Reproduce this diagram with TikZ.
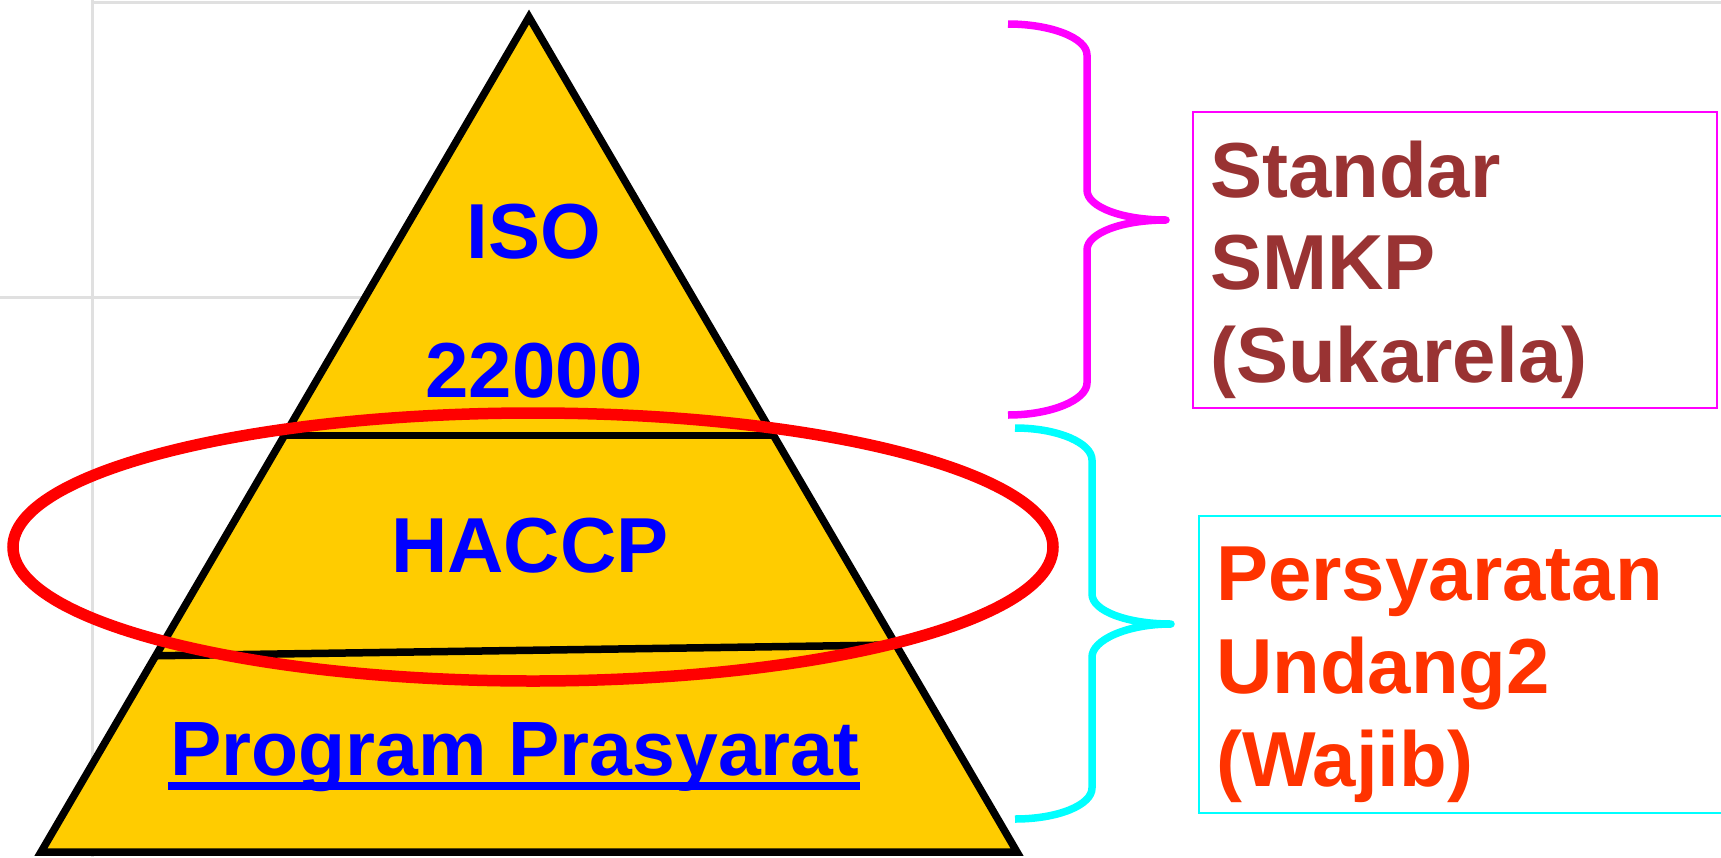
\documentclass[tikz,border=0pt]{standalone}
\usepackage{fontspec}
\setmainfont{Liberation Sans}
\usetikzlibrary{calc}
\definecolor{pyramidgold}{HTML}{FFCC00}
\definecolor{labelblue}{HTML}{0000FF}
\definecolor{smkpbrown}{HTML}{993333}
\definecolor{lawred}{HTML}{FF3300}
\definecolor{guidegray}{HTML}{E0E0E0}
\definecolor{bracemagenta}{HTML}{FF00FF}
\definecolor{bracecyan}{HTML}{00FFFF}
\definecolor{ringred}{HTML}{FF0000}

\begin{document}
\begin{tikzpicture}[x=1pt,y=-1pt,
  bigtext/.style={font=\bfseries\fontsize{78}{92.5}\selectfont, inner sep=0pt},
  tierlabel/.style={bigtext, text=labelblue, anchor=base},
  sidelabel/.style={bigtext, anchor=base west},
  edgeline/.style={line width=7.5pt},
  bracepath/.style={line width=7.5pt, line join=round},
  infobox/.style={draw, line width=2.5pt, inner sep=0pt},
  guide/.style={guidegray, line width=3pt}]
\useasboundingbox (0,0) rectangle (1721,857);

% faint layout guides behind everything
\draw[guide] (92,2) -- (1721,2);
\draw[guide] (92,0) -- (92,857);
\draw[guide] (0,297) -- (529,297);

% pyramid and its tiers
\coordinate (apex) at (529,17);
\coordinate (bl) at (41,852);
\coordinate (br) at (1017,852);
\filldraw[fill=pyramidgold, edgeline] (apex) -- (bl) -- (br) -- cycle;
\draw[edgeline] ($(apex)!0.501!(bl)$) -- ($(apex)!0.501!(br)$);
\draw[edgeline] ($(apex)!0.765!(bl)$) -- ($(apex)!0.752!(br)$);

% tier labels
\node[tierlabel] (iso) at (534,258) {ISO};
\node[tierlabel] (isonum) at (534,397) {22000};
\node[tierlabel] (haccp) at (530,572) {HACCP};
\node[tierlabel, font=\bfseries\fontsize{77}{92.5}\selectfont] (prp) at (515,775) {Program Prasyarat};
\draw[labelblue, line width=8pt] ($(prp.base west)+(-2,11)$) -- ($(prp.base east)+(0,11)$);

% braces
\draw[bracepath, bracemagenta]
  (1008,24) .. controls (1051,24) and (1087,38) .. (1087,55)
  -- (1087,190) .. controls (1087,207) and (1122,220) .. (1166,220)
  .. controls (1122,220) and (1087,233) .. (1087,250)
  -- (1087,383) .. controls (1087,400) and (1051,415) .. (1008,415);
\draw[bracepath, bracecyan]
  (1015,428) .. controls (1058,428) and (1092,443) .. (1092,460)
  -- (1092,594) .. controls (1092,611) and (1127,624) .. (1171,624)
  .. controls (1127,624) and (1092,640) .. (1092,657)
  -- (1092,788) .. controls (1092,805) and (1058,819) .. (1015,819);

% side boxes
\node[infobox, draw=bracemagenta, minimum width=524pt, minimum height=296pt] (smkpbox) at (1455,260) {};
\node[infobox, draw=bracecyan, minimum width=526pt, minimum height=297pt] (lawbox) at (1462,664.5) {};

\node[sidelabel, text=smkpbrown] (std) at (1210,197) {Standar};
\node[sidelabel, text=smkpbrown] (smkp) at (1210,289) {SMKP};
\node[sidelabel, text=smkpbrown] (suka) at (1210,382) {(Sukarela)};
\node[sidelabel, text=lawred] (pers) at (1216,600) {Persyaratan};
\node[sidelabel, text=lawred] (uu) at (1216,693) {Undang2};
\node[sidelabel, text=lawred] (wajib) at (1216,786) {(Wajib)};

% highlight ring around the HACCP tier
\draw[ringred, line width=11.5pt] (533,547) ellipse [x radius=520pt, y radius=134pt];
\end{tikzpicture}
\end{document}
